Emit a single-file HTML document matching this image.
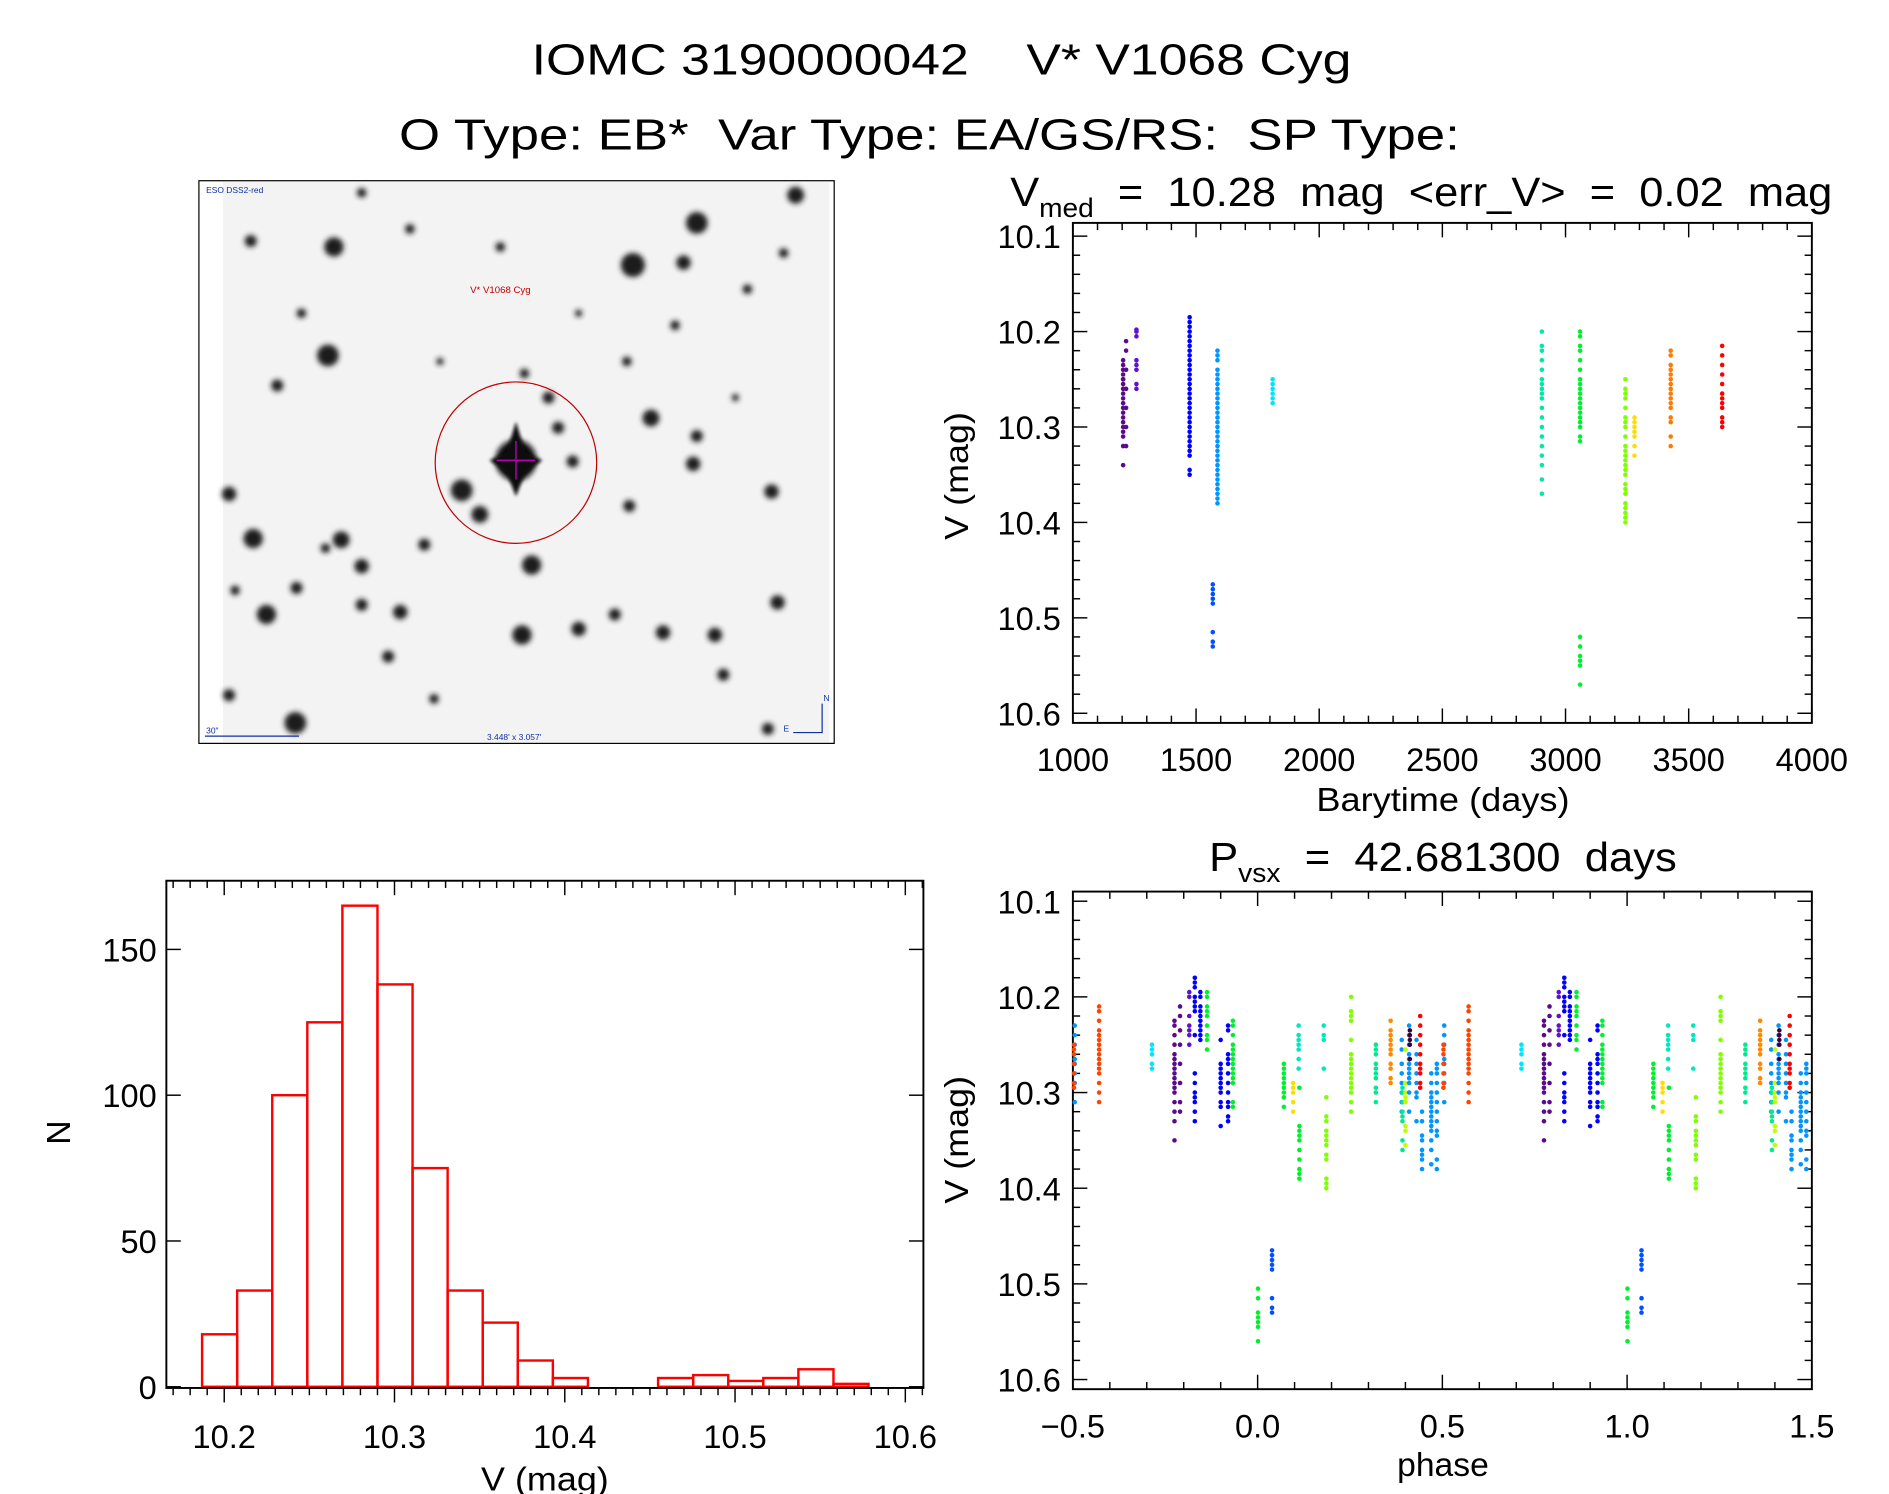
<!DOCTYPE html>
<html><head><meta charset="utf-8"><title>IOMC 3190000042</title>
<style>
html,body{margin:0;padding:0;background:#fff;}
svg{display:block;}
text{font-family:"Liberation Sans",sans-serif;fill:#000;white-space:pre;}
</style></head>
<body>
<svg id="fig" xmlns="http://www.w3.org/2000/svg" xml:space="preserve" width="1889" height="1494" viewBox="0 0 1567 1240" preserveAspectRatio="none">
<defs>
<filter id="blur2" x="-50%" y="-50%" width="200%" height="200%"><feGaussianBlur stdDeviation="2.2"/></filter>
<filter id="blur1" x="-50%" y="-50%" width="200%" height="200%"><feGaussianBlur stdDeviation="1.3"/></filter>
</defs>
<text x="441" y="62" font-size="36" textLength="680" lengthAdjust="spacingAndGlyphs">IOMC 3190000042    V* V1068 Cyg</text>
<text x="331" y="124" font-size="36" textLength="880" lengthAdjust="spacingAndGlyphs">O Type: EB*  Var Type: EA/GS/RS:  SP Type:</text>

<g id="sky">
<rect x="165" y="150" width="527" height="467" fill="#fff" stroke="#000" stroke-width="1"/>
<rect x="185" y="151" width="503" height="465" fill="#f3f3f3"/>
<g id="stars" filter="url(#blur2)"></g>
<g>
<circle cx="428" cy="382" r="17" fill="#111" filter="url(#blur2)"/>
<path d="M428 350 L436 376 L450 382 L436 392 L428 412 L420 392 L406 382 L420 376 Z" fill="#111" filter="url(#blur1)"/>
<line x1="362" y1="382" x2="494" y2="382" stroke="#bbb" stroke-width="2" filter="url(#blur1)"/>
<line x1="428" y1="330" x2="428" y2="440" stroke="#bbb" stroke-width="2" filter="url(#blur1)"/>
</g>
<circle cx="428" cy="384" r="67" fill="none" stroke="#c00000" stroke-width="1"/>
<line x1="412" y1="382" x2="444" y2="382" stroke="#b000b0" stroke-width="1.2"/>
<line x1="428" y1="366" x2="428" y2="398" stroke="#b000b0" stroke-width="1.2"/>
<text x="390" y="243" font-size="8" style="fill:#c00000">V* V1068 Cyg</text>
<text x="171" y="160" font-size="7" style="fill:#1030a0">ESO DSS2-red</text>
<line x1="170" y1="611" x2="248" y2="611" stroke="#1030a0" stroke-width="1"/>
<text x="171" y="609" font-size="7" style="fill:#1030a0">30"</text>
<text x="404" y="614" font-size="7" style="fill:#1030a0">3.448' x 3.057'</text>
<g stroke="#1030a0" stroke-width="1" fill="none">
<polyline points="658,608 682,608 682,584"/>
</g>
<text x="683" y="582" font-size="7" style="fill:#1030a0">N</text>
<text x="650" y="607" font-size="7" style="fill:#1030a0">E</text>
</g>

<g id="lc"></g>
<g id="ph"></g>
<g id="hist"></g>
</svg>
<script>
// ---------- Histogram data ----------
const histStart = 10.187;
const histBinWidth = 0.0206;
const histCounts = [18,33,100,125,165,138,75,33,22,9,3,0,0,3,4,2,3,6,1];
const histXTicks = [10.2,10.3,10.4,10.5,10.6];
const histYTicks = [0,50,100,150];

// ---------- Light curve data (Barytime, V mag) ----------
const lcTimes = [1204,1216,1258,1474,1587,1568,1811,2904,3059,3243,3280,3427,3636];
const lcColors = ["#5a0a8a","#5a0a8a","#6010d0","#0000ff","#0096ff","#0050ff","#00e5ff","#00e8a8","#00f030","#80ff00","#ffdd00","#ff7a00","#ff0000"];
const lcMags = [
 [10.23,10.235,10.24,10.245,10.25,10.25,10.255,10.26,10.265,10.27,10.275,10.28,10.285,10.29,10.295,10.30,10.305,10.31,10.32,10.34],
 [10.21,10.22,10.24,10.26,10.28,10.3,10.32],
 [10.198,10.2,10.205,10.23,10.235,10.24,10.255,10.26],
 [10.185,10.19,10.195,10.2,10.205,10.21,10.215,10.22,10.225,10.23,10.235,10.24,10.245,10.25,10.255,10.26,10.265,10.27,10.275,10.28,10.285,10.29,10.295,10.3,10.305,10.31,10.315,10.32,10.325,10.33,10.345,10.35],
 [10.22,10.225,10.23,10.24,10.245,10.25,10.255,10.26,10.265,10.27,10.275,10.28,10.285,10.29,10.295,10.3,10.305,10.31,10.315,10.32,10.325,10.33,10.335,10.34,10.345,10.35,10.355,10.36,10.365,10.37,10.375,10.38],
 [10.465,10.47,10.475,10.48,10.485,10.515,10.525,10.53],
 [10.25,10.255,10.26,10.265,10.27,10.275],
 [10.20,10.215,10.22,10.23,10.24,10.25,10.255,10.26,10.265,10.27,10.28,10.29,10.30,10.31,10.32,10.33,10.34,10.355,10.37],
 [10.2,10.205,10.215,10.22,10.23,10.24,10.25,10.255,10.26,10.265,10.27,10.275,10.28,10.285,10.29,10.295,10.3,10.31,10.315,10.52,10.53,10.54,10.545,10.55,10.57],
 [10.25,10.26,10.265,10.27,10.28,10.29,10.295,10.30,10.31,10.32,10.325,10.33,10.335,10.34,10.345,10.35,10.36,10.365,10.37,10.38,10.385,10.39,10.395,10.40],
 [10.29,10.295,10.30,10.305,10.31,10.32,10.33],
 [10.22,10.225,10.235,10.24,10.245,10.25,10.255,10.26,10.265,10.27,10.275,10.28,10.29,10.295,10.31,10.32],
 [10.215,10.225,10.235,10.245,10.255,10.265,10.27,10.275,10.28,10.29,10.295,10.30]
];
const lcXTicks = [1000,1500,2000,2500,3000,3500,4000];
const magTicks = [10.1,10.2,10.3,10.4,10.5,10.6];

// ---------- Phase diagram data ----------
const phPhases = [0.571,0.714,0.775,0.79,0.815,0.83,0.845,0.863,0.9,0.92,0.933,0.001,0.039,0.071,0.096,0.113,0.111,0.179,0.186,0.253,0.32,0.36,0.39,0.392,0.40,0.41,0.412,0.43,0.44,0.445,0.47,0.485,0.505,0.503];
const phColors = ["#ff4400","#00e5ff","#5a0a8a","#5a0a8a","#6010d0","#0000ff","#0000ff","#00f030","#0000ff","#0000ff","#00f030","#00f030","#0050ff","#00f030","#ffdd00","#00f030","#00e8c0","#00e8c0","#80ff00","#80ff00","#00e890","#ff8800","#0096ff","#00e890","#c0ff00","#0096ff","#3a003a","#0096ff","#ff0000","#0096ff","#0096ff","#0096ff","#0096ff","#ff4400"];
const phMags = [
 [10.21,10.215,10.225,10.235,10.24,10.245,10.25,10.255,10.26,10.265,10.27,10.275,10.28,10.29,10.30,10.31],
 [10.25,10.255,10.26,10.27,10.275],
 [10.225,10.23,10.24,10.25,10.26,10.265,10.27,10.275,10.28,10.285,10.29,10.295,10.30,10.31,10.32,10.33,10.35],
 [10.21,10.22,10.235,10.25,10.27,10.29,10.31,10.32],
 [10.195,10.2,10.22,10.23,10.235,10.24,10.25],
 [10.18,10.185,10.19,10.2,10.205,10.21,10.215,10.24,10.28,10.29,10.3,10.305,10.31,10.32,10.33],
 [10.195,10.2,10.21,10.215,10.22,10.225,10.23,10.235,10.24,10.245],
 [10.195,10.2,10.21,10.215,10.22,10.23,10.24,10.245,10.255],
 [10.245,10.27,10.275,10.28,10.285,10.29,10.295,10.3,10.31,10.315,10.335],
 [10.23,10.235,10.26,10.265,10.27,10.28,10.29,10.3,10.31,10.315,10.325,10.33],
 [10.225,10.23,10.24,10.25,10.255,10.26,10.265,10.27,10.275,10.28,10.285,10.29,10.31,10.315],
 [10.505,10.515,10.53,10.535,10.54,10.545,10.56],
 [10.465,10.47,10.475,10.48,10.485,10.515,10.525,10.53],
 [10.27,10.275,10.28,10.285,10.29,10.295,10.3,10.305,10.315],
 [10.29,10.295,10.3,10.31,10.32],
 [10.295,10.335,10.34,10.345,10.35,10.36,10.37,10.38,10.385,10.39],
 [10.23,10.24,10.245,10.25,10.255,10.265,10.275],
 [10.23,10.24,10.245,10.275],
 [10.305,10.325,10.33,10.34,10.345,10.35,10.355,10.365,10.37,10.39,10.395,10.4],
 [10.2,10.215,10.22,10.225,10.245,10.26,10.265,10.27,10.275,10.28,10.285,10.29,10.295,10.3,10.31,10.32],
 [10.25,10.255,10.26,10.27,10.275,10.28,10.285,10.295,10.3,10.31],
 [10.225,10.235,10.24,10.245,10.25,10.255,10.26,10.27,10.275,10.285,10.29],
 [10.245,10.255,10.27,10.28,10.29,10.3,10.31,10.32],
 [10.295,10.3,10.31,10.32,10.325,10.33,10.35,10.36],
 [10.255,10.29,10.3,10.305,10.31,10.335,10.34,10.355],
 [10.23,10.24,10.25,10.26,10.265,10.27,10.275,10.28,10.285,10.29,10.3,10.32],
 [10.235,10.24,10.245,10.25,10.265],
 [10.245,10.26,10.27,10.28,10.29,10.3,10.305,10.33],
 [10.22,10.23,10.24,10.25,10.26,10.27,10.275,10.28,10.29,10.295],
 [10.32,10.33,10.345,10.35,10.36,10.365,10.37,10.38],
 [10.28,10.29,10.3,10.305,10.31,10.315,10.32,10.325,10.33,10.335,10.34,10.35,10.36,10.375],
 [10.27,10.275,10.28,10.29,10.3,10.31,10.32,10.33,10.34,10.345,10.37,10.38],
 [10.23,10.24,10.25,10.265,10.27,10.28,10.29,10.31],
 [10.25,10.255,10.26,10.27,10.28,10.29,10.295]
];
const phXTicks = [-0.5,0.0,0.5,1.0,1.5];
const phXTickLabels = ["\u22120.5","0.0","0.5","1.0","1.5"];

// ---------- Sky image field stars (display coords, radius) ----------
const starX = [277,525,578,567,660,208,272,540,455,463,475,383,398,210,283,300,441,522,575,578,640,221,332,300,246,433,480,550,593,645,600,190,245,637,190,510,360,352,322,415,230,195,270,300,520,620,560,340,250,650,365,435,610,480];
const starY = [205,220,185,218,162,200,295,347,330,355,383,407,427,447,448,470,469,420,385,362,408,510,508,502,488,527,522,525,527,500,560,410,600,605,577,510,580,452,545,205,320,490,455,160,300,240,270,190,260,210,300,310,330,260];
const starR = [8,10,9,6,7,5,9,7,5,5,5,9,7,8,7,6,8,5,6,5,6,8,6,5,5,8,6,6,6,6,5,6,9,5,5,5,4,5,5,4,5,4,4,4,4,4,4,4,4,4,3,4,3,3];

const NS = "http://www.w3.org/2000/svg";
function mk(tag, attrs, parent){
  const e = document.createElementNS(NS, tag);
  for (const k in attrs) e.setAttribute(k, attrs[k]);
  if (parent) parent.appendChild(e);
  return e;
}

const starsG = document.getElementById('stars');
for (let i=0;i<starX.length;i++){
  const c = mk('circle',{cx:starX[i],cy:starY[i],r:starR[i],fill:'#1a1a1a'},starsG);
  
  
}

function drawAxes(g, o){
  const frame = mk('rect',{x:o.x0,y:o.y0,width:o.x1-o.x0,height:o.y1-o.y0,fill:'none',stroke:'#000','stroke-width':1.6},g);
  
  
  for (let v=o.xmin; v<=o.xmax+1e-9; v+=o.xminor){
    const X = o.sx(v);
    if (X < o.x0-0.5 || X > o.x1+0.5) continue;
    const major = Math.abs(Math.round(v/o.xmajor)*o.xmajor - v) < o.xminor*0.1;
    const L = major ? 12 : 6;
    const dir = o.xout ? 1 : -1;
    mk('line',{x1:X,y1:o.y1,x2:X,y2:o.y1+dir*L,stroke:'#000','stroke-width':1.2},g);
    mk('line',{x1:X,y1:o.y0,x2:X,y2:o.y0+L,stroke:'#000','stroke-width':1.2},g);
  }
  for (let v=o.ymin; v<=o.ymax+1e-9; v+=o.yminor){
    const Y = o.sy(v);
    if (Y < o.y0-0.5 || Y > o.y1+0.5) continue;
    const major = Math.abs(Math.round(v/o.ymajor)*o.ymajor - v) < o.yminor*0.1;
    const L = major ? 12 : 6;
    mk('line',{x1:o.x0,y1:Y,x2:o.x0+L,y2:Y,stroke:'#000','stroke-width':1.2},g);
    mk('line',{x1:o.x1,y1:Y,x2:o.x1-L,y2:Y,stroke:'#000','stroke-width':1.2},g);
  }
  o.xticks.forEach((v,i)=>{
    const t = mk('text',{x:o.sx(v),y:o.xlabY,'font-size':27,'text-anchor':'middle'},g);
    t.textContent = o.xtickLabels ? o.xtickLabels[i] : String(v);
    
    
  });
  o.yticks.forEach((v)=>{
    const t = mk('text',{x:o.ylabX,y:o.sy(v)+10,'font-size':27,'text-anchor':'end'},g);
    t.textContent = o.yfmt(v);
    
    
  });
}

// ---------- Light curve ----------
(function(){
  const g = document.getElementById('lc');
  const x0=890,x1=1503,y0=185,y1=600;
  const sx = t => 890 + (t-1000)/3000*613;
  const sy = m => 196 + (m-10.1)/0.5*396;
  drawAxes(g,{x0,x1,y0,y1,sx,sy,xmin:1000,xmax:4000,xminor:100,xmajor:500,ymin:10.08,ymax:10.62,yminor:0.02,ymajor:0.1,
    xticks:lcXTicks,yticks:magTicks,xlabY:640,ylabX:880,yfmt:v=>v.toFixed(1)});
  lcTimes.forEach((t,i)=>{
    lcMags[i].forEach(m=>{
      const c = mk('circle',{cx:sx(t),cy:sy(m),r:1.9,fill:lcColors[i]},g);
      
      
    });
  });
  const tt = mk('text',{x:838,y:171,'font-size':34,textLength:682,lengthAdjust:'spacingAndGlyphs'},g);
  tt.innerHTML = 'V<tspan font-size="22" dy="9">med</tspan><tspan dy="-9">  =  10.28  mag  &lt;err_V&gt;  =  0.02  mag</tspan>';
  
  
  const xl = mk('text',{x:1197,y:673,'font-size':28,'text-anchor':'middle',textLength:210,lengthAdjust:'spacingAndGlyphs'},g);
  xl.textContent='Barytime (days)';
  
  
  const yl = mk('text',{x:0,y:0,'font-size':28,'text-anchor':'middle',transform:'translate(803,395) rotate(-90)',textLength:106,lengthAdjust:'spacingAndGlyphs'},g);
  yl.textContent='V (mag)';
  
  
})();

// ---------- Phase diagram ----------
(function(){
  const g = document.getElementById('ph');
  const x0=890,x1=1503,y0=740,y1=1153;
  const sx = p => 890 + (p+0.5)/2*613;
  const sy = m => 748 + (m-10.1)/0.5*397;
  drawAxes(g,{x0,x1,y0,y1,sx,sy,xmin:-0.5,xmax:1.5,xminor:0.1,xmajor:0.5,ymin:10.08,ymax:10.62,yminor:0.02,ymajor:0.1,
    xticks:phXTicks,xtickLabels:phXTickLabels,yticks:magTicks,xlabY:1193,ylabX:880,yfmt:v=>v.toFixed(1)});
  phPhases.forEach((p,i)=>{
    [-1,0,1].forEach(k=>{
      const pp = p+k;
      if (pp < -0.5 || pp > 1.5) return;
      phMags[i].forEach(m=>{
        const c = mk('circle',{cx:sx(pp),cy:sy(m),r:1.9,fill:phColors[i]},g);
        
        
      });
    });
  });
  const tt = mk('text',{x:1003,y:723,'font-size':34,textLength:388,lengthAdjust:'spacingAndGlyphs'},g);
  tt.innerHTML = 'P<tspan font-size="22" dy="9">vsx</tspan><tspan dy="-9">  =  42.681300  days</tspan>';
  
  
  const xl = mk('text',{x:1197,y:1225,'font-size':28,'text-anchor':'middle',textLength:76,lengthAdjust:'spacingAndGlyphs'},g);
  xl.textContent='phase';
  
  
  const yl = mk('text',{x:0,y:0,'font-size':28,'text-anchor':'middle',transform:'translate(803,946) rotate(-90)',textLength:106,lengthAdjust:'spacingAndGlyphs'},g);
  yl.textContent='V (mag)';
  
  
})();

// ---------- Histogram ----------
(function(){
  const g = document.getElementById('hist');
  const x0=138,x1=766,y0=731,y1=1152;
  const sx = v => 186 + (v-10.2)/0.1*141.25;
  const sy = n => 1151 - n/50*121;
  histCounts.forEach((n,i)=>{
    const a = histStart + i*histBinWidth, b = a + histBinWidth;
    const r = mk('rect',{x:sx(a),y:sy(n),width:sx(b)-sx(a),height:sy(0)-sy(n),fill:'none',stroke:'#ff0000','stroke-width':2},g);
    
    
  });
  drawAxes(g,{x0,x1,y0,y1,sx,sy,xmin:10.17,xmax:10.61,xminor:0.01,xmajor:0.1,xout:true,ymin:0,ymax:173,yminor:50,ymajor:50,
    xticks:histXTicks,yticks:histYTicks,xlabY:1202,ylabX:130,yfmt:v=>String(v)});
  const xl = mk('text',{x:452,y:1237,'font-size':28,'text-anchor':'middle',textLength:106,lengthAdjust:'spacingAndGlyphs'},g);
  xl.textContent='V (mag)';
  
  
  const yl = mk('text',{x:0,y:0,'font-size':28,'text-anchor':'middle',transform:'translate(58,940) rotate(-90)'},g);
  yl.textContent='N';
  
  
})();
</script>
</body></html>
